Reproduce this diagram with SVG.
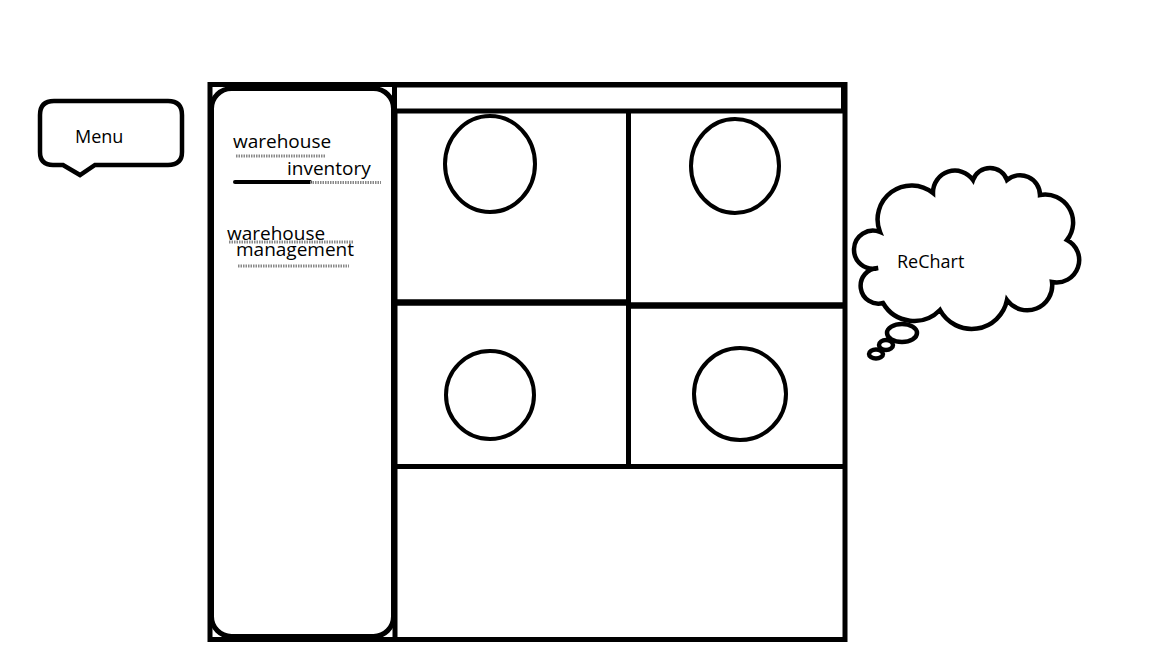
<svg xmlns="http://www.w3.org/2000/svg" width="1152" height="648" viewBox="0 0 1152 648">
<style>
.ln{fill:none;stroke:#000;stroke-width:5}
.sh{fill:#fff;stroke:#000;stroke-width:4.5}
.t{font-family:"Open Sans","Noto Sans","DejaVu Sans",sans-serif;fill:#000}
.sq{stroke:#888;stroke-width:3;stroke-dasharray:1.5 1}
</style>
<rect width="1152" height="648" fill="#fff"/>
<g id="frame">
<rect class="ln" x="210" y="84.5" width="635" height="555"/>
</g>
<g id="topbar">
<rect class="ln" x="394.5" y="85" width="449" height="26"/>
</g>
<g id="grid">
<line class="ln" x1="395" y1="111" x2="395" y2="640"/>
<line class="ln" x1="628.5" y1="111" x2="628.5" y2="466"/>
<line class="ln" x1="395" y1="302.5" x2="628" y2="302.5" style="stroke-width:6.5"/>
<line class="ln" x1="628" y1="305.5" x2="845" y2="305.5" style="stroke-width:6.5"/>
<line class="ln" x1="395" y1="466.5" x2="845" y2="466.5"/>
</g>
<g id="chart1"><ellipse class="ln" style="stroke-width:4" cx="490" cy="164" rx="45" ry="48"/></g>
<g id="chart2"><ellipse class="ln" style="stroke-width:4" cx="735" cy="166" rx="44" ry="47"/></g>
<g id="chart3"><ellipse class="ln" style="stroke-width:4" cx="490" cy="395" rx="44" ry="44"/></g>
<g id="chart4"><ellipse class="ln" style="stroke-width:4" cx="740" cy="394" rx="46" ry="46"/></g>
<g id="sidebar">
<rect class="ln" x="211.5" y="88.5" width="182" height="548" rx="20"/>
<text class="t" x="233" y="148" font-size="19">warehouse</text>
<line class="sq" x1="236" y1="156" x2="326" y2="156"/>
<text class="t" x="287" y="175" font-size="19">inventory</text>
<line x1="235" y1="182" x2="310" y2="182" stroke="#000" stroke-width="4" stroke-linecap="round"/>
<line class="sq" x1="310" y1="182.5" x2="381" y2="182.5"/>
<text class="t" x="227" y="240" font-size="19">warehouse</text>
<line class="sq" x1="229" y1="242" x2="353" y2="242"/>
<text class="t" x="236" y="256" font-size="19">management</text>
<line class="sq" x1="238" y1="266" x2="349" y2="266"/>
</g>
<g id="menu">
<path class="sh" d="M54,101 H168 Q182,101 182,115 V152 Q182,165 168,165 H95 L80,175 L63,165 H53 Q40,165 40,152 V115 Q40,101 54,101 Z"/>
<text class="t" x="75" y="143" font-size="18">Menu</text>
</g>
<g id="rechart">
<path class="sh" d="M878,268 A19,19 0 1 1 880,232 A34,34 0 0 1 933,193 A22,22 0 0 1 973,180 A18,18 0 0 1 1007,180 A20,20 0 0 1 1040,195 A28,28 0 0 1 1067,240 A22.5,22.5 0 0 1 1052,282 A25,25 0 0 1 1007,300 A36,36 0 0 1 940,310 A36,36 0 0 1 883,303 A17.8,17.8 0 1 1 878,268 Z"/>
<ellipse class="sh" cx="902" cy="333" rx="15" ry="9"/>
<ellipse class="sh" cx="886" cy="345" rx="7" ry="5"/>
<ellipse class="sh" cx="876" cy="354" rx="7" ry="4.5"/>
<text class="t" x="897" y="268" font-size="18">ReChart</text>
</g>
<g id="connectors"></g>
</svg>
